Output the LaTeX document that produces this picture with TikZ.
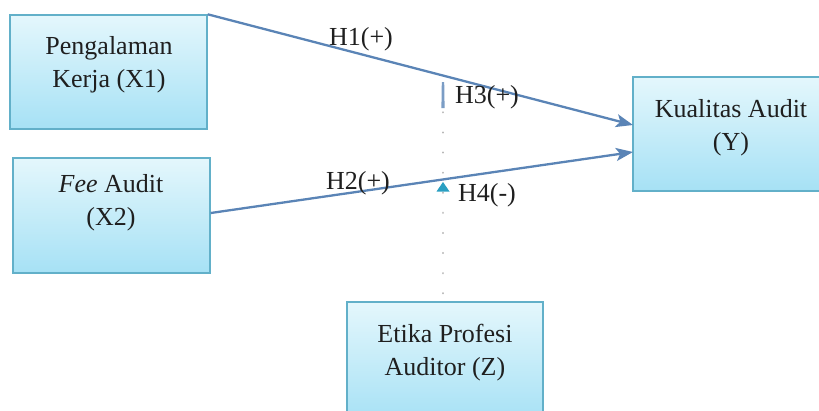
\documentclass[tikz,border=0pt]{standalone}
\usepackage{fontspec}
\setmainfont{Liberation Serif}
\usetikzlibrary{arrows.meta,calc}
\definecolor{boxtop}{HTML}{E4F7FC}
\definecolor{boxbot}{HTML}{A6E1F5}
\definecolor{boxline}{HTML}{62B0C9}
\definecolor{arr}{HTML}{5A84B6}
\definecolor{tealtip}{HTML}{2A9FC2}
\definecolor{dotgrey}{HTML}{B8B8B8}
\begin{document}
\begin{tikzpicture}[x=1pt,y=-1pt,
  font=\fontsize{26}{33}\selectfont,
  varbox/.style={draw=boxline, line width=1.4pt, top color=boxtop, bottom color=boxbot, inner sep=0pt},
  vartext/.style={align=center, inner sep=0pt, text=black!88},
  hyp/.style={draw=arr, line width=2.3pt, -{Stealth[length=17pt,width=13pt,inset=4pt]}},
  lbl/.style={inner sep=0pt, text=black!88}]
\useasboundingbox (0,0) rectangle (819,410);
% boxes
\node[varbox, minimum width=197, minimum height=114] (X1) at (108.5,72) {};
\node[vartext] (X1t) at (109,65) {Pengalaman\\Kerja (X1)};
\node[varbox, minimum width=197, minimum height=115] (X2) at (111.5,215.5) {};
\node[vartext] (X2t) at (111,203) {\textit{Fee} Audit\\(X2)};
\node[varbox, minimum width=192, minimum height=114] (Y) at (729,134) {};
\node[vartext] (Yt) at (731,128) {Kualitas Audit\\(Y)};
\node[varbox, minimum width=196, minimum height=120] (Z) at (445,362) {};
\node[vartext] (Zt) at (445,353) {Etika Profesi\\Auditor (Z)};
% coordinates
\coordinate (Yin1) at (633,125);
\coordinate (Yin2) at (633,152);
\coordinate (m3) at (443,82);
\coordinate (m3b) at (443,108);
\coordinate (m4) at (443,182);
% main paths
\draw[hyp] (X1.north east) -- (Yin1);
\draw[hyp] (X2.east |- 0,213) -- (Yin2);
% moderating dotted line
\draw[dotgrey, line width=2.2pt, line cap=round, dash pattern=on 0.1pt off 20pt] ([xshift=-2pt,yshift=8pt]Z.north) -- (m3b);
\fill[arr!80] (m3) -- ++(1.2,0) -- ($(m3b)+(1.6,0)$) -- ($(m3b)+(-1.6,0)$) -- ++(0.4,-26) -- cycle;
\fill[tealtip] (m4) -- ++(6.5,9.5) -- ++(-13,0) -- cycle;
% labels
\node[lbl] (H1) at (361,39) {H1(+)};
\node[lbl] (H3) at (487,97) {H3(+)};
\node[lbl] (H2) at (358,183) {H2(+)};
\node[lbl] (H4) at (487,195) {H4(-)};
\end{tikzpicture}
\end{document}
